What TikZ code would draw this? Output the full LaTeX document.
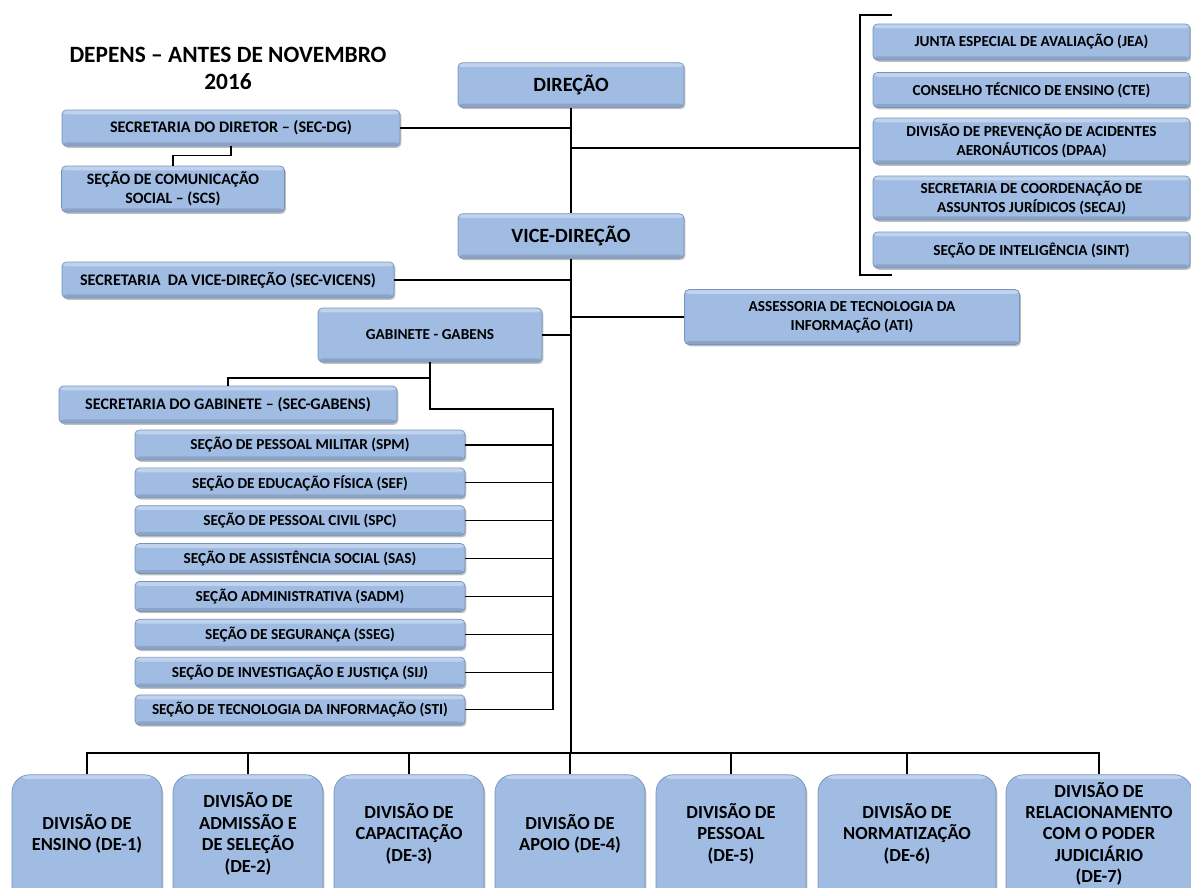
\documentclass[tikz,border=0pt]{standalone}
\usepackage{fontspec}
\setmainfont{Carlito}
\usetikzlibrary{positioning, shadows}
\definecolor{boxblue}{RGB}{160,188,226}
\definecolor{boxedge}{RGB}{118,146,188}
\tikzset{
        unit/.style={draw=boxedge, fill=boxblue, rounded corners=2.5pt, align=center, inner sep=1pt,
          font=\bfseries\fontsize{8.7}{10.8}\selectfont,
          drop shadow={shadow xshift=0.8pt, shadow yshift=-1pt, opacity=0.5},
          path picture={
            \fill[white, opacity=0.35] (path picture bounding box.north west) rectangle ([yshift=-2.5pt]path picture bounding box.north east);
            \fill[black, opacity=0.12] ([yshift=2pt]path picture bounding box.south west) rectangle (path picture bounding box.south east);
          }}, % every box of the chart
        secretary/.style={unit, font=\bfseries\fontsize{9.2}{11}\selectfont}, % secretariats on the left
        head/.style={unit, font=\bfseries\fontsize{11.5}{13}\selectfont, minimum width=4.52cm, minimum height=0.89cm}, % direction boxes
        council/.style={unit, minimum width=6.34cm}, % boxes in the bracket
        section/.style={unit, minimum width=6.6cm, minimum height=0.6cm}, % sections under the cabinet
        division/.style={unit, rounded corners=10pt, font=\bfseries\fontsize{10.5}{12.2}\selectfont,
          text depth=18.3pt, minimum width=3cm, minimum height=2.95cm}, % bottom row, cut by the page
        link/.style={line width=0.6pt},
        branch/.style={line width=1.2pt},
        trunk/.style={line width=1.6pt},
    }

\begin{document}
\begin{tikzpicture}
    \useasboundingbox (0,0) rectangle (23.82,-17.74);
    \node[font=\bfseries\fontsize{13.3}{15.3}\selectfont, align=center] (title) at (4.56,-1.37) {DEPENS – ANTES DE NOVEMBRO\\2016};

    \node[head] (dir) at (11.42,-1.70) {DIREÇÃO};
    \node[secretary, minimum width=6.76cm, minimum height=0.72cm] (secdg) at (4.62,-2.56) {SECRETARIA DO DIRETOR – (SEC-DG)};
    \node[unit, font=\bfseries\fontsize{9}{11}\selectfont, minimum width=4.46cm, minimum height=0.92cm] (scs) at (3.46,-3.78) {SEÇÃO DE COMUNICAÇÃO\\SOCIAL – (SCS)};

    \node[council, minimum height=0.72cm] (jea) at (20.63,-0.84) {JUNTA ESPECIAL DE AVALIAÇÃO (JEA)};
    \node[council, minimum height=0.70cm] (cte) at (20.63,-1.80) {CONSELHO TÉCNICO DE ENSINO (CTE)};
    \node[council, minimum height=0.92cm] (dpaa) at (20.63,-2.82) {DIVISÃO DE PREVENÇÃO DE ACIDENTES\\AERONÁUTICOS (DPAA)};
    \node[council, minimum height=0.88cm] (secaj) at (20.63,-3.96) {SECRETARIA DE COORDENAÇÃO DE\\ASSUNTOS JURÍDICOS (SECAJ)};
    \node[council, minimum height=0.72cm] (sint) at (20.63,-5.00) {SEÇÃO DE INTELIGÊNCIA (SINT)};

    \node[head] (vice) at (11.42,-4.72) {VICE-DIREÇÃO};
    \node[secretary, minimum width=6.64cm, minimum height=0.72cm] (secvi) at (4.56,-5.60) {SECRETARIA\ \ DA VICE-DIREÇÃO (SEC-VICENS)};
    \node[unit, minimum width=6.7cm, minimum height=1.1cm] (ati) at (17.04,-6.34) {ASSESSORIA DE TECNOLOGIA DA\\INFORMAÇÃO (ATI)};
    \node[unit, minimum width=4.48cm, minimum height=1.08cm] (gab) at (8.60,-6.70) {GABINETE - GABENS};
    \node[secretary, minimum width=6.76cm, minimum height=0.74cm] (secgab) at (4.56,-8.09) {SECRETARIA DO GABINETE – (SEC-GABENS)};

    % sections of the cabinet
    \begin{scope}[node distance=0.757cm]
    \node[section] (spm) at (6.00,-8.90) {SEÇÃO DE PESSOAL MILITAR (SPM)};
    \node[section, below of=spm] (sef) {SEÇÃO DE EDUCAÇÃO FÍSICA (SEF)};
    \node[section, below of=sef] (spc) {SEÇÃO DE PESSOAL CIVIL (SPC)};
    \node[section, below of=spc] (sas) {SEÇÃO DE ASSISTÊNCIA SOCIAL (SAS)};
    \node[section, below of=sas] (sadm) {SEÇÃO ADMINISTRATIVA (SADM)};
    \node[section, below of=sadm] (sseg) {SEÇÃO DE SEGURANÇA (SSEG)};
    \node[section, below of=sseg] (sij) {SEÇÃO DE INVESTIGAÇÃO E JUSTIÇA (SIJ)};
    \node[section, below of=sij] (sti) {SEÇÃO DE TECNOLOGIA DA INFORMAÇÃO (STI)};
    \end{scope}

    % divisions
    \begin{scope}[node distance=3.22cm]
    \node[division] (de1) at (1.74,-16.97) {DIVISÃO DE\\ENSINO (DE-1)};
    \node[division, right of=de1] (de2) {DIVISÃO DE\\ADMISSÃO E\\DE SELEÇÃO\\(DE-2)};
    \node[division, right of=de2] (de3) {DIVISÃO DE\\CAPACITAÇÃO\\(DE-3)};
    \node[division, right of=de3] (de4) {DIVISÃO DE\\APOIO (DE-4)};
    \node[division, right of=de4] (de5) {DIVISÃO DE\\PESSOAL\\(DE-5)};
    \node[division, right of=de5, xshift=3mm, minimum width=3.56cm] (de6) {DIVISÃO DE\\NORMATIZAÇÃO\\(DE-6)};
    \node[division, right of=de6, xshift=6.2mm, minimum width=3.72cm] (de7) {DIVISÃO DE\\RELACIONAMENTO\\COM O PODER\\JUDICIÁRIO\\(DE-7)};
    \end{scope}

    \coordinate (brtop) at (17.84,-0.30);
    \coordinate (brmid) at (17.20,-2.96);
    \coordinate (brbot) at (17.84,-5.50);
    \coordinate (gabj) at (8.60,-7.56);
    \coordinate (secj) at (11.06,-8.18);
    \coordinate (bar) at (11.42,-15.06);

    \draw[link] (dir) -- (vice);
    \draw[link] (secdg.east) -- (secdg.east -| dir.south);
    \draw[link] (secdg.south) -- ++(0,-0.18) -| (scs.north);
    \draw[link] (dir.south |- brmid) -- (brmid);
    \draw[link] (brtop) -| (brmid) |- (brbot);
    \draw[link] (secvi.east) -- (secvi.east -| vice.south);
    \draw[link] (ati.west) -- (ati.west -| vice.south);
    \draw[link] (gab.east) -- (gab.east -| vice.south);
    \draw[trunk] (vice.south) -- (bar);
    \draw[link] (gab.south) -- (gabj) -| (secgab.north);
    \draw[branch] (gabj) |- (secj) -- (secj |- sti.east);
    \foreach \s in {spm,sef,spc,sas,sadm,sseg,sij,sti}
      \draw[link] (\s.east) -- (\s.east -| secj);
    \foreach \d in {de1,de2,de3,de4,de5,de6,de7}
      \draw[link] (bar) -| (\d.north);
    \draw[branch] (de2.north |- bar) -- (de5.north |- bar);
\end{tikzpicture}
\end{document}
